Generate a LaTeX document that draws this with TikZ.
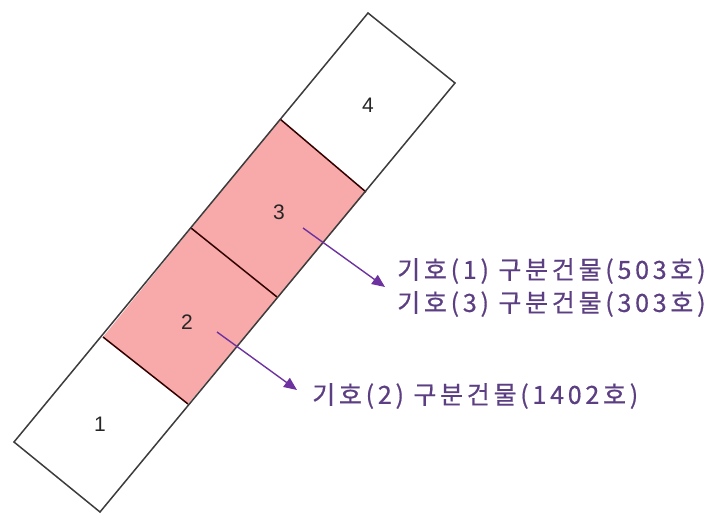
\documentclass[tikz,border=0pt]{standalone}
\usepackage{fontspec}
\setmainfont{Liberation Sans}
\newfontfamily\kofont[LetterSpace=15,FakeBold=0.6]{Noto Sans CJK KR}
\usetikzlibrary{arrows.meta}
\definecolor{cellpink}{RGB}{247,170,169}
\definecolor{arrowpurple}{RGB}{110,50,160}
\definecolor{textpurple}{RGB}{92,62,130}
\definecolor{edgegray}{RGB}{60,60,60}
\begin{document}
\begin{tikzpicture}[x=1pt,y=-1pt,
  outline/.style={draw=edgegray,line width=1.5pt,line join=miter},
  divider/.style={draw=black!80!red,line width=1.5pt},
  numlabel/.style={font=\fontsize{21}{21}\selectfont,text=black!85,inner sep=0pt},
  kolabel/.style={font=\kofont\fontsize{25}{25}\selectfont,text=textpurple,inner sep=0pt,anchor=west},
  pointer/.style={draw=arrowpurple,line width=1.4pt,-{Triangle[length=13pt,width=11pt]}}]
\useasboundingbox (0,0) rectangle (720,516);
% corners
\coordinate (L0) at (14,442);
\coordinate (L1) at (103,337);
\coordinate (L2) at (191,228);
\coordinate (L3) at (280,119);
\coordinate (L4) at (368,13);
\coordinate (R0) at (100,512);
\coordinate (R1) at (188,404);
\coordinate (R2) at (277,297);
\coordinate (R3) at (366,192);
\coordinate (R4) at (455,83);
% pink cells
\fill[cellpink] (L1) -- (L3) -- (R3) -- (R1) -- cycle;
% dividers
\draw[divider] (L1) -- (R1);
\draw[divider] (L2) -- (R2);
\draw[divider] (L3) -- (R3);
% outline
\draw[outline] (L0) -- (L4) -- (R4) -- (R0) -- cycle;
% numbers
\node[numlabel] (n1) at (100,424) {1};
\node[numlabel] (n2) at (187,322) {2};
\node[numlabel] (n3) at (279,212) {3};
\node[numlabel] (n4) at (368,105) {4};
% labels
\node[kolabel] (t1) at (397,271) {기호(1) 구분건물(503호)};
\node[kolabel] (t2) at (397,304) {기호(3) 구분건물(303호)};
\node[kolabel] (t3) at (312,396) {기호(2) 구분건물(1402호)};
% arrows
\coordinate (a3) at (303,228);
\coordinate (e3) at (385,287);
\coordinate (a2) at (217,332);
\coordinate (e2) at (297,390);
\draw[pointer] (a3) -- (e3);
\draw[pointer] (a2) -- (e2);
\end{tikzpicture}
\end{document}
